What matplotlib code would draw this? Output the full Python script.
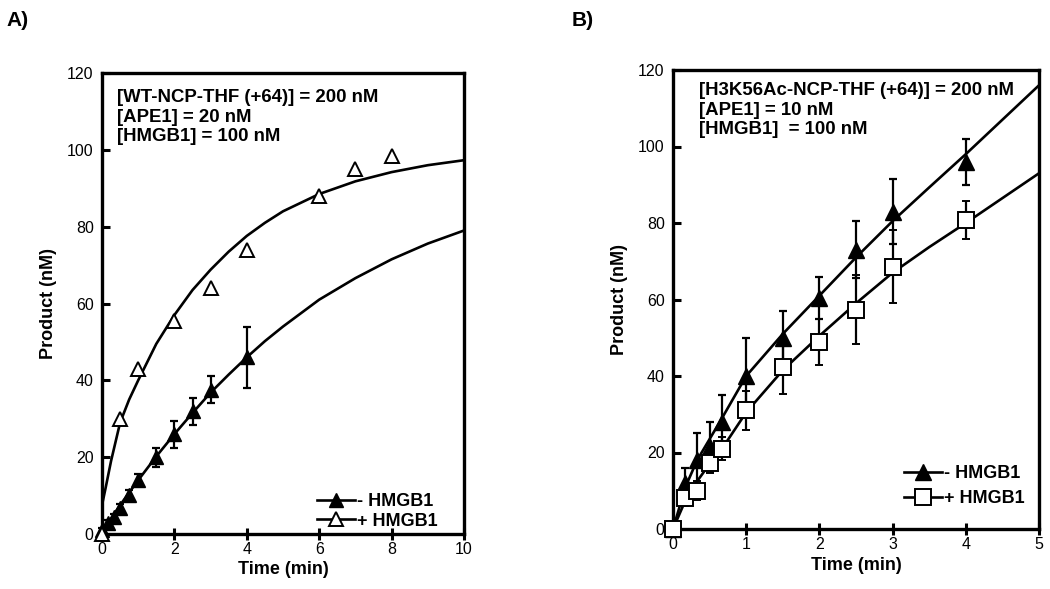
import matplotlib
matplotlib.use("Agg")
import matplotlib.pyplot as plt
from matplotlib.lines import Line2D

plt.rcParams['font.family'] = ['Liberation Sans', 'DejaVu Sans']

# ---- panel A data ----
a_t_minus = [0, 0.17, 0.33, 0.5, 0.75, 1, 1.5, 2, 2.5, 3, 4]
a_p_minus = [1, 2.9, 4.5, 6.8, 10.2, 14, 20, 26, 32, 37.5, 46]
a_err_minus = [0.5, 0.8, 0.8, 1, 1.2, 1.5, 2.5, 3.5, 3.5, 3.5, 8]
a_t_plus = [0, 0.5, 1, 2, 3, 4, 6, 7, 8]
a_p_plus = [0, 30, 43, 55.5, 64, 74, 88, 95, 98.5]

# fit curves
a_fit_t = [0, 0.1, 0.25, 0.5, 0.75, 1, 1.5, 2, 2.5, 3, 3.5, 4, 4.5, 5, 6, 7, 8, 9, 10]
a_fit_plus = [7.5, 12, 19, 29, 35, 40, 49.5, 57, 63.5, 68.8, 73.5, 77.6, 81, 84, 88.5, 91.8, 94.2, 96, 97.3]
a_fit_minus = [0.5, 1.9, 4, 7.5, 10.8, 14, 20.2, 26, 31.5, 36.8, 41.5, 46, 50.2, 54, 61, 66.6, 71.5, 75.6, 79]

# ---- panel B data ----
b_t = [0, 0.17, 0.33, 0.5, 0.67, 1, 1.5, 2, 2.5, 3, 4]
b_p_minus = [0, 12, 18, 21.5, 28, 40, 50, 60.3, 73, 83, 96]
b_err_minus = [0, 4, 7, 6.5, 7, 10, 7, 5.5, 7.5, 8.5, 6]
b_p_plus = [0, 8, 10, 17.2, 21, 31, 42.4, 49, 57.3, 68.6, 80.8]
b_err_plus = [0, 2, 2.5, 2.5, 3, 5, 7, 6, 9, 9.5, 5]

b_fit_t = [0, 0.17, 0.33, 0.5, 0.67, 1, 1.5, 2, 2.5, 3, 3.5, 4, 4.5, 5]
b_fit_minus = [0, 11, 18, 23.5, 29, 40, 51, 61, 71, 80.5, 89.3, 98, 107, 116]
b_fit_plus = [0, 7.5, 12.5, 17, 21, 30.5, 41.5, 50.5, 59, 67, 73.7, 80, 86.5, 93]

W, H = 1050, 589
fig = plt.figure(figsize=(10.5, 5.89), dpi=100)


def px_axes(l, t, r, b):
    return fig.add_axes([l / W, 1 - b / H, (r - l) / W, (b - t) / H])


def style(ax, xmax, xstep):
    for s in ax.spines.values():
        s.set_linewidth(2.4)
    ax.set_ylim(0, 120)
    ax.set_xlim(0, xmax)
    ax.set_yticks(range(0, 121, 20))
    ax.set_xticks([i * xstep for i in range(int(xmax / xstep) + 1)])
    ax.tick_params(axis='x', direction='inout', length=8, width=2.2, labelsize=11.5, pad=2)
    ax.tick_params(axis='y', direction='in', length=6, width=2.2, labelsize=11.5, pad=6)
    ax.set_xlabel('Time (min)', fontsize=13, fontweight='bold', labelpad=3)
    ax.set_ylabel('Product (nM)', fontsize=13, fontweight='bold', labelpad=7)


# ---- panel A ----
ax1 = px_axes(102, 73, 464, 534)
style(ax1, 10, 2)
ax1.plot(a_fit_t, a_fit_plus, color='black', lw=1.9)
ax1.plot(a_fit_t, a_fit_minus, color='black', lw=1.9)
ax1.errorbar(a_t_minus, a_p_minus, yerr=a_err_minus, fmt='^', ms=10, color='black',
             mfc='black', mec='black', ecolor='black', elinewidth=1.6, capsize=3, capthick=1.6,
             clip_on=False, zorder=3)
ax1.plot(a_t_plus, a_p_plus, '^', ms=10, mfc='white', mec='black', mew=1.4, ls='none',
         clip_on=False, zorder=4)
fig.text(117 / W, 1 - 89 / H, '[WT-NCP-THF (+64)] = 200 nM\n[APE1] = 20 nM\n[HMGB1] = 100 nM',
         fontsize=13.4, fontweight='bold', va='top', ha='left', linespacing=1.2)
h1 = [Line2D([], [], color='black', lw=1.9, marker='^', ms=10, mfc='black', mec='black'),
      Line2D([], [], color='black', lw=1.9, marker='^', ms=10, mfc='white', mec='black', mew=1.4)]
ax1.legend(h1, ['- HMGB1', '+ HMGB1'], loc='upper left', bbox_to_anchor=(308 / W, 1 - 484 / H),
           bbox_transform=fig.transFigure, frameon=False, handlelength=2.1, handletextpad=0.1,
           labelspacing=0.15, borderpad=0, prop={'weight': 'bold', 'size': 13})

# ---- panel B ----
ax2 = px_axes(673, 70, 1039, 529)
style(ax2, 5, 1)
ax2.plot(b_fit_t, b_fit_minus, color='black', lw=1.9)
ax2.plot(b_fit_t, b_fit_plus, color='black', lw=1.9)
ax2.errorbar(b_t, b_p_minus, yerr=b_err_minus, fmt='^', ms=11, color='black',
             mfc='black', mec='black', ecolor='black', elinewidth=1.6, capsize=3, capthick=1.6,
             clip_on=False, zorder=3)
ax2.errorbar(b_t, b_p_plus, yerr=b_err_plus, fmt='s', ms=11, color='black',
             mfc='white', mec='black', mew=1.4, ecolor='black', elinewidth=1.6, capsize=3,
             capthick=1.6, clip_on=False, zorder=4)
fig.text(699 / W, 1 - 82 / H, '[H3K56Ac-NCP-THF (+64)] = 200 nM\n[APE1] = 10 nM\n[HMGB1]  = 100 nM',
         fontsize=13.4, fontweight='bold', va='top', ha='left', linespacing=1.2)
h2 = [Line2D([], [], color='black', lw=1.9, marker='^', ms=11, mfc='black', mec='black'),
      Line2D([], [], color='black', lw=1.9, marker='s', ms=11, mfc='white', mec='black', mew=1.4)]
ax2.legend(h2, ['- HMGB1', '+ HMGB1'], loc='upper left', bbox_to_anchor=(895 / W, 1 - 456 / H),
           bbox_transform=fig.transFigure, frameon=False, handlelength=2.1, handletextpad=0.1,
           labelspacing=0.45, borderpad=0, prop={'weight': 'bold', 'size': 13})

fig.text(6 / W, 1 - 20 / H, 'A)', fontsize=15, fontweight='bold', va='center', ha='left')
fig.text(572 / W, 1 - 20 / H, 'B)', fontsize=15, fontweight='bold', va='center', ha='left')

fig.savefig('out.png', dpi=100, facecolor='white')
